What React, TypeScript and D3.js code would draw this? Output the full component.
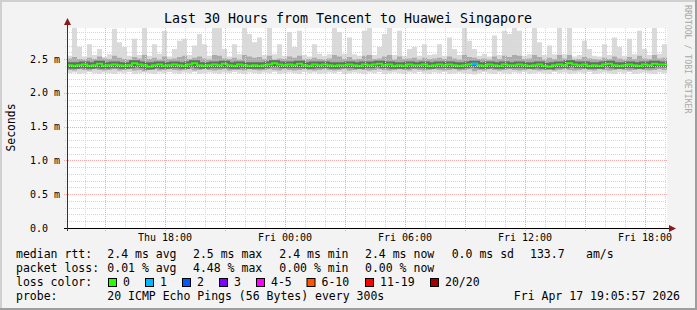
import React from 'react';
import * as d3 from 'd3';

const END = new Date(2026, 3, 17, 19, 5, 57);
const HOURS = 30;
const STEP_MIN = 15;

const TITLE = 'Last 30 Hours from Tencent to Huawei Singapore';
const Y_LABEL = 'Seconds';
const WATERMARK = 'RRDTOOL / TOBI OETIKER';

// median RTT (ms), one value per 15 minutes
const medianMs = [
  2.41, 2.40, 2.41, 2.42, 2.40, 2.41, 2.43, 2.40, 2.41, 2.42,
  2.41, 2.40, 2.41, 2.44, 2.42, 2.41, 2.39, 2.41, 2.42, 2.40,
  2.41, 2.42, 2.41, 2.40, 2.42, 2.44, 2.41, 2.40, 2.41, 2.42,
  2.41, 2.43, 2.41, 2.40, 2.42, 2.41, 2.40, 2.41, 2.40, 2.41,
  2.42, 2.44, 2.42, 2.41, 2.42, 2.41, 2.43, 2.41, 2.40, 2.42,
  2.41, 2.42, 2.41, 2.40, 2.41, 2.41, 2.42, 2.41, 2.40, 2.42,
  2.41, 2.42, 2.43, 2.41, 2.42, 2.40, 2.41, 2.40, 2.42, 2.41,
  2.41, 2.42, 2.40, 2.41, 2.42, 2.41, 2.42, 2.41, 2.40, 2.41,
  2.42, 2.43, 2.41, 2.40, 2.42, 2.41, 2.40, 2.42, 2.41, 2.41,
  2.42, 2.41, 2.40, 2.41, 2.42, 2.40, 2.39, 2.41, 2.42, 2.41,
  2.44, 2.42, 2.41, 2.42, 2.40, 2.41, 2.40, 2.42, 2.43, 2.41,
  2.40, 2.41, 2.42, 2.41, 2.40, 2.42, 2.41, 2.43, 2.42, 2.42,
];

// highest ping (ms)
const maxMs = [
  2.55, 2.96, 2.68, 2.54, 2.72, 2.56, 2.65, 2.53, 2.57, 2.95,
  2.75, 2.68, 2.55, 2.80, 2.56, 2.96, 2.55, 2.72, 2.58, 2.92,
  2.54, 2.65, 2.77, 2.80, 2.56, 2.70, 2.87, 2.72, 2.55, 2.96,
  2.96, 2.65, 2.54, 2.72, 2.57, 2.96, 2.87, 2.75, 2.82, 2.56,
  2.96, 2.57, 2.72, 2.55, 2.90, 2.68, 2.92, 2.56, 2.54, 2.72,
  2.58, 2.55, 2.57, 2.96, 2.90, 2.58, 2.82, 2.57, 2.55, 2.92,
  2.96, 2.56, 2.68, 2.87, 2.96, 2.56, 2.92, 2.55, 2.65, 2.68,
  2.55, 2.72, 2.56, 2.57, 2.72, 2.55, 2.82, 2.65, 2.56, 2.96,
  2.77, 2.65, 2.55, 2.58, 2.54, 2.85, 2.56, 2.92, 2.87, 2.96,
  2.92, 2.55, 2.57, 2.96, 2.75, 2.56, 2.70, 2.57, 2.96, 2.57,
  2.96, 2.54, 2.56, 2.77, 2.65, 2.55, 2.54, 2.72, 2.56, 2.82,
  2.68, 2.55, 2.80, 2.57, 2.92, 2.65, 2.56, 2.96, 2.58, 2.72,
];

// upper edge of the dense smoke (ms)
const upperMs = [
  2.51, 2.53, 2.50, 2.49, 2.52, 2.50, 2.54, 2.51, 2.50, 2.55,
  2.52, 2.50, 2.49, 2.53, 2.51, 2.56, 2.50, 2.52, 2.49, 2.54,
  2.50, 2.51, 2.53, 2.55, 2.50, 2.52, 2.54, 2.51, 2.49, 2.56,
  2.55, 2.51, 2.50, 2.52, 2.49, 2.56, 2.54, 2.52, 2.53, 2.50,
  2.55, 2.49, 2.51, 2.50, 2.54, 2.52, 2.55, 2.49, 2.50, 2.52,
  2.50, 2.49, 2.51, 2.56, 2.54, 2.50, 2.53, 2.49, 2.50, 2.55,
  2.56, 2.50, 2.51, 2.54, 2.56, 2.49, 2.54, 2.50, 2.51, 2.52,
  2.49, 2.52, 2.50, 2.51, 2.52, 2.50, 2.54, 2.51, 2.49, 2.56,
  2.53, 2.52, 2.50, 2.51, 2.49, 2.54, 2.50, 2.55, 2.53, 2.56,
  2.55, 2.50, 2.51, 2.56, 2.53, 2.49, 2.52, 2.50, 2.56, 2.51,
  2.56, 2.49, 2.50, 2.53, 2.51, 2.50, 2.49, 2.52, 2.50, 2.54,
  2.51, 2.49, 2.53, 2.50, 2.55, 2.51, 2.50, 2.56, 2.51, 2.52,
];

// lower edge of the dense smoke (ms)
const lowerMs = [
  2.34, 2.33, 2.35, 2.34, 2.33, 2.35, 2.34, 2.33, 2.34, 2.35,
  2.33, 2.34, 2.35, 2.33, 2.34, 2.32, 2.34, 2.35, 2.33, 2.34,
  2.35, 2.34, 2.33, 2.34, 2.35, 2.33, 2.34, 2.35, 2.34, 2.33,
  2.34, 2.35, 2.33, 2.34, 2.34, 2.33, 2.35, 2.34, 2.33, 2.34,
  2.35, 2.34, 2.33, 2.35, 2.34, 2.33, 2.34, 2.35, 2.34, 2.33,
  2.34, 2.35, 2.34, 2.33, 2.34, 2.35, 2.33, 2.34, 2.35, 2.34,
  2.33, 2.34, 2.35, 2.34, 2.33, 2.34, 2.35, 2.34, 2.33, 2.35,
  2.34, 2.33, 2.34, 2.35, 2.34, 2.33, 2.34, 2.35, 2.33, 2.34,
  2.35, 2.32, 2.34, 2.33, 2.35, 2.34, 2.33, 2.34, 2.35, 2.34,
  2.33, 2.34, 2.35, 2.34, 2.33, 2.34, 2.35, 2.33, 2.34, 2.35,
  2.34, 2.33, 2.34, 2.35, 2.34, 2.33, 2.35, 2.34, 2.33, 2.34,
  2.35, 2.34, 2.33, 2.34, 2.35, 2.34, 2.33, 2.34, 2.35, 2.34,
];

// lowest ping (ms)
const minMs = [
  2.29, 2.30, 2.28, 2.29, 2.31, 2.29, 2.28, 2.30, 2.29, 2.28,
  2.30, 2.29, 2.31, 2.28, 2.29, 2.30, 2.29, 2.28, 2.30, 2.29,
  2.31, 2.29, 2.28, 2.30, 2.29, 2.31, 2.28, 2.29, 2.30, 2.29,
  2.28, 2.30, 2.29, 2.31, 2.29, 2.28, 2.30, 2.29, 2.28, 2.30,
  2.29, 2.31, 2.28, 2.29, 2.30, 2.29, 2.28, 2.31, 2.29, 2.30,
  2.28, 2.29, 2.30, 2.29, 2.31, 2.28, 2.29, 2.30, 2.29, 2.28,
  2.30, 2.29, 2.31, 2.28, 2.29, 2.30, 2.29, 2.28, 2.30, 2.29,
  2.31, 2.29, 2.28, 2.30, 2.29, 2.31, 2.28, 2.29, 2.30, 2.29,
  2.28, 2.27, 2.29, 2.31, 2.29, 2.28, 2.30, 2.29, 2.28, 2.30,
  2.29, 2.31, 2.28, 2.29, 2.30, 2.29, 2.28, 2.31, 2.29, 2.30,
  2.28, 2.29, 2.30, 2.29, 2.31, 2.28, 2.29, 2.30, 2.29, 2.28,
  2.30, 2.29, 2.31, 2.28, 2.29, 2.30, 2.29, 2.28, 2.30, 2.29,
];

// bins with packet loss, and the lost ping count
const lossBins = [81];
const lossCounts = [1];

const yTicks = [0, 0.5, 1.0, 1.5, 2.0, 2.5];

const rttLabel = 'median rtt:';
const rttStats = ['2.4 ms avg', '2.5 ms max', '2.4 ms min', '2.4 ms now', '0.0 ms sd'];
const rttAmps = ['133.7', 'am/s'];
const lossLabel = 'packet loss:';
const lossStats = ['0.01 % avg', '4.48 % max', '0.00 % min', '0.00 % now'];
const colorLabel = 'loss color:';
const lossNames = ['0', '1', '2', '3', '4-5', '6-10', '11-19', '20/20'];
const lossColors = ['#26ff00', '#00b8ff', '#0059ff', '#7e00ff', '#ff00ff', '#ff5500', '#ff0000', '#a10000'];
const lossThresholds = [0, 1, 2, 3, 4, 6, 11, 20];
const probeLabel = 'probe:';
const probeText = '20 ICMP Echo Pings (56 Bytes) every 300s';
const dateText = 'Fri Apr 17 19:05:57 2026';

const W = 697;
const H = 310;
const FONT = '"DejaVu Sans Mono", monospace';

const START = new Date(END.getTime() - HOURS * 3600 * 1000);
const STEP = STEP_MIN * 60 * 1000;

type Pt = { t: Date; med: number; max: number; up: number; lo: number; min: number };

const points: Pt[] = medianMs.map((m, i) => ({
  t: new Date(START.getTime() + i * STEP),
  med: m,
  max: maxMs[i],
  up: upperMs[i],
  lo: lowerMs[i],
  min: minMs[i],
}));
const last = points[points.length - 1];
const pointsExt: Pt[] = [...points, { ...last, t: new Date(START.getTime() + points.length * STEP) }];

function lossColor(count: number) {
  let c = lossColors[0];
  lossThresholds.forEach((th, i) => {
    if (count >= th) c = lossColors[i];
  });
  return c;
}

export default function App() {
  const L = 67, R = 667, T = 28, B = 228;
  const x = d3.scaleTime().domain([START, END]).range([L, R]);
  const y = d3.scaleLinear().domain([0, 2.96]).range([B, T]);

  const areaOuter = d3.area<Pt>().x(d => x(d.t)).y0(d => y(d.min)).y1(d => y(d.max)).curve(d3.curveStepAfter);
  const areaInner = d3.area<Pt>().x(d => x(d.t)).y0(d => y(d.lo)).y1(d => y(d.up)).curve(d3.curveStepAfter);
  const medLine = d3.line<Pt>().x(d => x(d.t)).y(d => y(d.med)).curve(d3.curveStepAfter);

  const minorY = d3.range(1, 30).map(v => v / 10).filter(v => Math.round(v * 10) % 5 !== 0);
  const hours = d3.timeHour.range(START, END);
  const major3 = hours.filter(h => h.getHours() % 3 === 0);
  const minorX = hours.filter(h => h.getHours() % 3 !== 0);
  const labelX = hours.filter(h => h.getHours() % 6 === 0);
  const fmt = d3.timeFormat('%a %H:%M');

  const gridGray = '#d6d6d6';
  const gridRed = '#f4a9a9';

  const lossSegs = lossBins.map((b, k) => ({
    seg: [points[b], { ...points[b], t: new Date(points[b].t.getTime() + STEP) }],
    color: lossColor(lossCounts[k]),
  }));

  const statX = [107.3, 193, 279.3, 365, 451.7];
  const swX = [108, 145, 182, 219, 256, 306.5, 365, 430];

  return (
    <svg width={W} height={H} style={{ position: 'absolute', left: 0, top: 0 }} fontFamily={FONT}>
      <rect x={0} y={0} width={W} height={H} fill="#f3f3f3" />
      {/* 3D frame */}
      <rect x={0} y={0} width={W} height={2} fill="#d0d0d0" />
      <rect x={0} y={0} width={2} height={H} fill="#d0d0d0" />
      <rect x={0} y={H - 2} width={W} height={2} fill="#9e9e9e" />
      <rect x={W - 2} y={0} width={2} height={H} fill="#9e9e9e" />

      <text x={348} y={23} fontSize={13.3} textAnchor="middle" fill="#000">{TITLE}</text>
      <text transform="translate(15,127.5) rotate(-90)" fontSize={11.4} textAnchor="middle" fill="#000">{Y_LABEL}</text>
      <text transform="translate(685,5) rotate(90)" fontSize={8.2} fill="#a8a8a8">{WATERMARK}</text>

      <rect x={L} y={T} width={R - L} height={B - T} fill="#ffffff" />
      <defs>
        <clipPath id="plotclip">
          <rect x={L} y={T} width={R - L} height={B - T} />
        </clipPath>
      </defs>

      <g clipPath="url(#plotclip)">
        <path d={areaOuter(pointsExt) || ''} fill="#dadada" />
        <path d={areaInner(pointsExt) || ''} fill="#ababab" />
        <path d={medLine(pointsExt) || ''} fill="none" stroke="#333333" strokeWidth={6} strokeOpacity={0.55} />
        <path d={medLine(pointsExt) || ''} fill="none" stroke={lossColors[0]} strokeWidth={2} />
        {lossSegs.map((s, i) => (
          <path key={i} d={medLine(s.seg as Pt[]) || ''} fill="none" stroke={s.color} strokeWidth={2.5} />
        ))}
      </g>

      {/* grid */}
      {minorY.map(v => (
        <line key={'my' + v} x1={65} x2={R} y1={Math.round(y(v)) + 0.5} y2={Math.round(y(v)) + 0.5}
          stroke={gridGray} strokeDasharray="1,1" />
      ))}
      {minorX.map(h => (
        <line key={'mx' + h.getTime()} x1={Math.round(x(h)) + 0.5} x2={Math.round(x(h)) + 0.5} y1={T} y2={B + 2}
          stroke={gridGray} strokeDasharray="1,1" />
      ))}
      {yTicks.filter(v => v > 0).map(v => (
        <line key={'My' + v} x1={64} x2={R} y1={Math.round(y(v)) + 0.5} y2={Math.round(y(v)) + 0.5}
          stroke={gridRed} strokeDasharray="1,1" />
      ))}
      {major3.map(h => (
        <line key={'Mx' + h.getTime()} x1={Math.round(x(h)) + 0.5} x2={Math.round(x(h)) + 0.5} y1={T} y2={B + 3}
          stroke={gridRed} strokeDasharray="1,1" />
      ))}

      {/* axes */}
      <line x1={64} x2={R + 3} y1={B + 0.5} y2={B + 0.5} stroke="#000" />
      <line x1={L + 0.5} x2={L + 0.5} y1={B + 3} y2={T - 4} stroke="#333" />
      <path d={`M${L + 0.5},${T - 10} L${L - 3},${T - 3} L${L + 4},${T - 3} Z`} fill="#8b1a1a" />
      <path d={`M${R + 9},${B + 0.5} L${R + 2},${B - 3} L${R + 2},${B + 4} Z`} fill="#8b1a1a" />

      {yTicks.map(v => (
        <text key={'yl' + v} x={30} y={y(v) + 3.5} fontSize={10} fill="#000">
          {v === 0 ? '0.0' : `${v.toFixed(1)} m`}
        </text>
      ))}
      {labelX.map(h => (
        <text key={'xl' + h.getTime()} x={x(h)} y={241} fontSize={10} textAnchor="middle" fill="#000">
          {fmt(h)}
        </text>
      ))}

      {/* legend */}
      <g fontSize={11.5} fill="#000">
        <text x={16} y={258}>{rttLabel}</text>
        {rttStats.map((s, i) => (
          <text key={'r' + i} x={statX[i]} y={258}>{s}</text>
        ))}
        <text x={530} y={258}>{rttAmps[0]}</text>
        <text x={586} y={258}>{rttAmps[1]}</text>

        <text x={16} y={272}>{lossLabel}</text>
        {lossStats.map((s, i) => (
          <text key={'l' + i} x={statX[i]} y={272}>{s}</text>
        ))}

        <text x={16} y={286}>{colorLabel}</text>
        {lossNames.map((n, i) => (
          <g key={'c' + i}>
            <rect x={swX[i] + 0.5} y={278.5} width={8} height={8} fill={lossColors[i]} stroke="#000" strokeWidth={1} />
            <text x={swX[i] + 15} y={286}>{n}</text>
          </g>
        ))}

        <text x={16} y={300}>{probeLabel}</text>
        <text x={107.3} y={300}>{probeText}</text>
        <text x={680} y={300} textAnchor="end">{dateText}</text>
      </g>
    </svg>
  );
}
